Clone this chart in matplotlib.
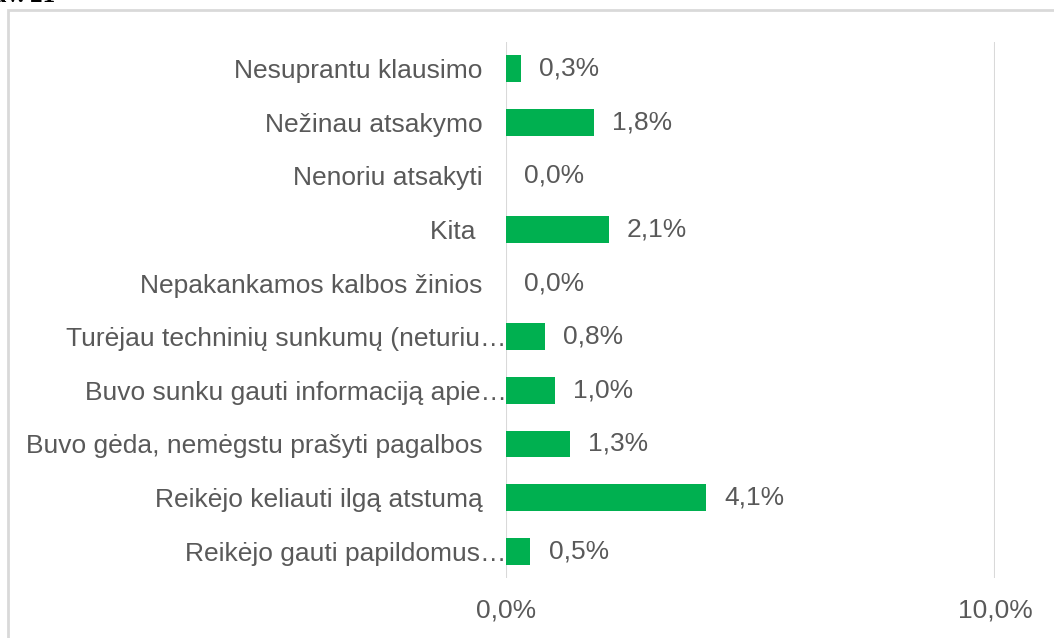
import matplotlib.pyplot as plt
from matplotlib.patches import Rectangle
from matplotlib.transforms import ScaledTranslation

# categories top to bottom, as shown in the chart
categories = [
    "Nesuprantu klausimo",
    "Nežinau atsakymo",
    "Nenoriu atsakyti",
    "Kita ",
    "Nepakankamos kalbos žinios",
    "Turėjau techninių sunkumų (neturiu…",
    "Buvo sunku gauti informaciją apie…",
    "Buvo gėda, nemėgstu prašyti pagalbos",
    "Reikėjo keliauti ilgą atstumą",
    "Reikėjo gauti papildomus…",
]
values = [0.3, 1.8, 0.0, 2.1, 0.0, 0.8, 1.0, 1.3, 4.1, 0.5]
x_ticks = [0, 10]
x_tick_labels = ["0,0%", "10,0%"]

green = "#00B050"
text_gray = "#595959"
line_gray = "#D9D9D9"
fs = 19

plt.rcParams["font.family"] = ["Liberation Sans", "DejaVu Sans"]

fig = plt.figure(figsize=(10.54, 6.38), dpi=100)
W, H = 1054, 638
ax = fig.add_axes([506 / W, 1 - 578 / H, (995 - 506) / W, (578 - 42) / H])

# light frame around the chart area
fig.patches.append(Rectangle((8 / W, -0.05), 1.1, 1 - 10 / H + 0.05,
                             transform=fig.transFigure, fill=False,
                             edgecolor=line_gray, linewidth=2))

# caption cut off at the top edge
fig.text(55 / W, 1 - 7 / H, "pav. 21", ha="right", va="bottom",
         family="Liberation Serif", weight="bold", fontsize=18, color="black")

n = len(categories)
ypos = list(range(n - 1, -1, -1))
ax.barh(ypos, values, height=0.5, color=green, zorder=3)

for y, v in zip(ypos, values):
    ax.annotate(f"{v:.1f}%".replace(".", ","), (v, y), xytext=(13, 0),
                textcoords="offset points", va="center", ha="left",
                fontsize=fs, color=text_gray)

ax.set_xlim(0, 10)
ax.set_ylim(-0.5, n - 0.5)
ax.set_xticks(x_ticks)
ax.set_xticklabels(x_tick_labels)
ax.set_yticks(ypos)
ax.set_yticklabels(categories)
ax.tick_params(axis="x", length=0, pad=15, labelsize=fs, labelcolor=text_gray)
ax.tick_params(axis="y", length=0, pad=17, labelsize=fs, labelcolor=text_gray)

# truncated labels reach closer to the axis
for lab in ax.get_yticklabels():
    if lab.get_text().endswith("…"):
        lab.set_transform(lab.get_transform() +
                          ScaledTranslation(0.24, 0, fig.dpi_scale_trans))

ax.grid(axis="x", color=line_gray, linewidth=1.5, zorder=0)
for s in ax.spines.values():
    s.set_visible(False)

fig.savefig("out.png", dpi=100)
